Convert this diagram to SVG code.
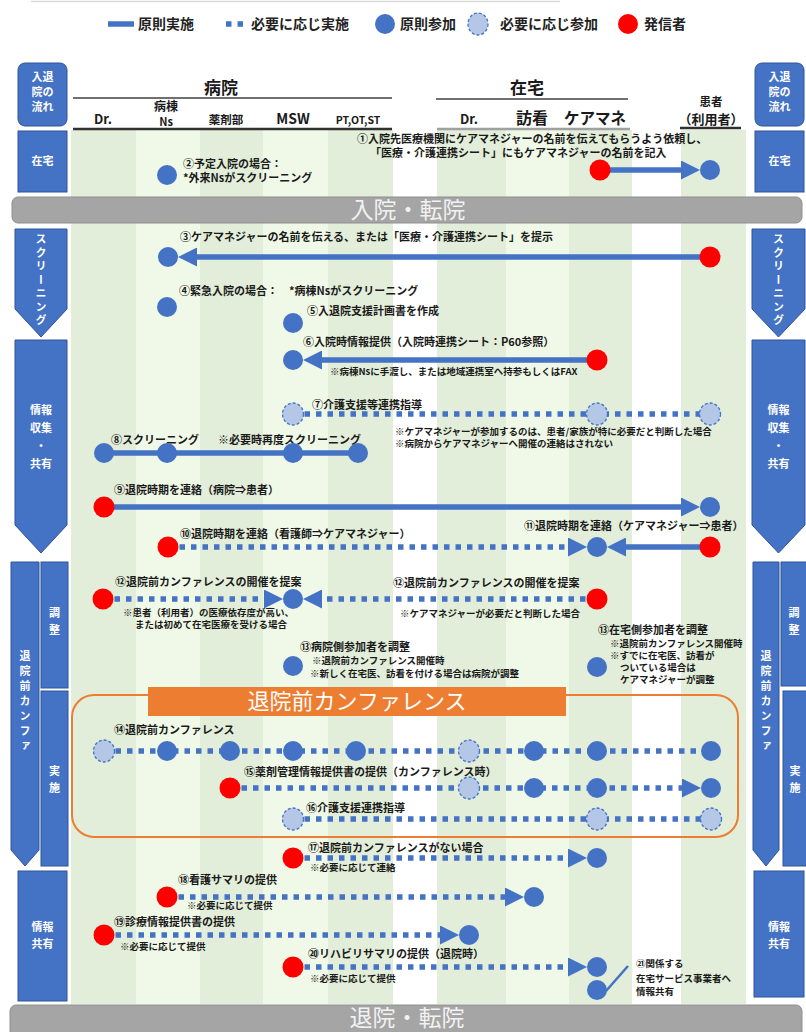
<svg xmlns="http://www.w3.org/2000/svg" width="806" height="1032" viewBox="0 0 806 1032">
<defs>
<style>
text{font-family:"Noto Sans CJK JP","Noto Sans CJK SC",sans-serif}
.lb{font-size:11px;font-weight:700;fill:#1a1a1a}
.nt{font-size:9.5px;font-weight:700;fill:#1a1a1a}
.hd{font-weight:700;fill:#1a1a1a;text-anchor:middle}
.lg{font-size:14px;font-weight:700;fill:#222}
.sd{fill:#4472c4;stroke:#2f5597;stroke-width:1}
.st{font-size:11px;font-weight:700;fill:#fff;text-anchor:middle}
.vt{font-size:11px;font-weight:700;fill:#fff;text-anchor:middle;writing-mode:vertical-rl}
.D{fill:#e2eed9}
.L{fill:#f0f9e8}
.b{fill:#4472c4}
.r{fill:#ff0000}
.o{fill:#b4c7e7;stroke:#4472c4;stroke-width:1.3;stroke-dasharray:3 2}
.s{stroke:#4472c4;stroke-width:5.5;fill:none}
.d{stroke:#4472c4;stroke-width:5.5;stroke-dasharray:5.5 6;fill:none}
.a{marker-end:url(#ah)}
.bar{fill:#a5a5a5;stroke:#8f8f8f;stroke-width:1}
.bt{font-size:23px;fill:#f2f2f2;text-anchor:middle}
</style>
<marker id="ah" viewBox="0 0 19 19" refX="11" refY="9.5" markerWidth="19" markerHeight="19" markerUnits="userSpaceOnUse" orient="auto">
<path d="M0,0L19,9.5L0,19z" fill="#4472c4"/>
</marker>
</defs>

<rect width="806" height="1032" fill="#ffffff"/>
<line x1="31" y1="1.5" x2="560" y2="1.5" stroke="#d9d9d9" stroke-width="1.5"/>

<!-- legend -->
<g id="legend">
<line class="s" x1="108" y1="24" x2="134" y2="24"/>
<text class="lg" x="138" y="29">原則実施</text>
<line class="d" x1="226" y1="24" x2="246" y2="24"/>
<text class="lg" x="251" y="29">必要に応じ実施</text>
<circle class="b" cx="385" cy="24" r="10"/>
<text class="lg" x="400" y="29">原則参加</text>
<ellipse class="o" cx="478" cy="24" rx="10" ry="11"/>
<text class="lg" x="500" y="29">必要に応じ参加</text>
<circle class="r" cx="628" cy="24" r="10"/>
<text class="lg" x="644" y="29">発信者</text>
</g>

<!-- column stripes -->
<g id="stripes">
<rect class="D" x="71" y="130" width="65" height="874"/>
<rect class="L" x="136" y="130" width="64" height="874"/>
<rect class="D" x="200" y="130" width="63" height="874"/>
<rect class="L" x="263" y="130" width="65" height="874"/>
<rect class="D" x="328" y="130" width="65" height="874"/>
<rect class="D" x="437" y="130" width="69" height="874"/>
<rect class="L" x="506" y="130" width="63" height="874"/>
<rect class="D" x="569" y="130" width="63" height="874"/>
<rect class="D" x="681" y="130" width="65" height="874"/>
</g>

<!-- header -->
<g id="header">
<text class="hd" x="221" y="94" font-size="17">病院</text>
<text class="hd" x="527" y="94" font-size="17">在宅</text>
<line x1="73" y1="98" x2="392" y2="98" stroke="#404040" stroke-width="1.5"/>
<line x1="436" y1="99" x2="628" y2="99" stroke="#404040" stroke-width="1.5"/>
<text class="hd" x="103" y="124" font-size="13">Dr.</text>
<text class="hd" x="166" y="111" font-size="12">病棟</text>
<text class="hd" x="166" y="126" font-size="11">Ns</text>
<text class="hd" x="226" y="124" font-size="11.5">薬剤部</text>
<text class="hd" x="293" y="124" font-size="14">MSW</text>
<text class="hd" x="358" y="124" font-size="10.5">PT,OT,ST</text>
<text class="hd" x="469" y="124" font-size="13">Dr.</text>
<text class="hd" x="532" y="124" font-size="16">訪看</text>
<text class="hd" x="595" y="124" font-size="15.5">ケアマネ</text>
<text class="hd" x="711" y="106" font-size="11.5">患者</text>
<text class="hd" x="711" y="124" font-size="13">（利用者）</text>
<line x1="73" y1="129" x2="392" y2="129" stroke="#303030" stroke-width="2.5"/>
<line x1="437" y1="129" x2="630" y2="129" stroke="#a0a0a0" stroke-width="2.5"/>
<line x1="680" y1="128" x2="741" y2="128" stroke="#303030" stroke-width="2.5"/>
</g>

<!-- left side flow -->
<g id="left-flow-title"><rect class="sd" x="18" y="63" width="49" height="63" rx="7"/>
<text class="st" font-size="10" x="42.5" y="81">入退</text><text class="st" font-size="10" x="42.5" y="96">院の</text><text class="st" font-size="10" x="42.5" y="111">流れ</text></g>
<g id="left-zaitaku"><rect class="sd" x="18" y="131" width="49" height="61"/><text class="st" x="42.5" y="165">在宅</text></g>
<g id="left-screening"><path class="sd" d="M15,229H67V309L41,337L15,309Z"/><text class="vt" x="41" y="281" letter-spacing="2.5">スクリーニング</text></g>
<g id="left-info"><path class="sd" d="M15,340H67V525L41,553L15,525Z"/>
<text class="st" x="41" y="414">情報</text><text class="st" x="41" y="432">収集</text><text class="st" x="41" y="450">・</text><text class="st" x="41" y="468">共有</text></g>
<g id="left-conf"><path class="sd" d="M11,562H39V850L25,866L11,850Z"/><text class="vt" x="25" y="703" font-size="11.5" letter-spacing="4">退院前カンファ</text></g>
<g id="left-adjust"><rect class="sd" x="41" y="562" width="27" height="126"/><text class="vt" x="54.5" y="624" letter-spacing="6">調整</text></g>
<g id="left-impl"><rect class="sd" x="41" y="691" width="27" height="175"/><text class="vt" x="54.5" y="782" letter-spacing="6">実施</text></g>
<g id="left-share"><rect class="sd" x="18" y="871" width="49" height="130"/><text class="st" x="42.5" y="931">情報</text><text class="st" x="42.5" y="948">共有</text></g>

<!-- right side flow -->
<g id="right-flow-title"><rect class="sd" x="755" y="63" width="49" height="63" rx="7"/>
<text class="st" font-size="10" x="779.5" y="81">入退</text><text class="st" font-size="10" x="779.5" y="96">院の</text><text class="st" font-size="10" x="779.5" y="111">流れ</text></g>
<g id="right-zaitaku"><rect class="sd" x="755" y="131" width="49" height="61"/><text class="st" x="779.5" y="165">在宅</text></g>
<g id="right-screening"><path class="sd" d="M752,229H805V309L778.5,337L752,309Z"/><text class="vt" x="778.5" y="281" letter-spacing="2.5">スクリーニング</text></g>
<g id="right-info"><path class="sd" d="M752,340H805V525L778.5,553L752,525Z"/>
<text class="st" x="778.5" y="414">情報</text><text class="st" x="778.5" y="432">収集</text><text class="st" x="778.5" y="450">・</text><text class="st" x="778.5" y="468">共有</text></g>
<g id="right-conf"><path class="sd" d="M753,562H779V850L766,866L753,850Z"/><text class="vt" x="766" y="703" font-size="11.5" letter-spacing="4">退院前カンファ</text></g>
<g id="right-adjust"><rect class="sd" x="781" y="562" width="30" height="124"/><text class="vt" x="794" y="624" letter-spacing="6">調整</text></g>
<g id="right-impl"><rect class="sd" x="783" y="691" width="28" height="175"/><text class="vt" x="795" y="782" letter-spacing="6">実施</text></g>
<g id="right-share"><rect class="sd" x="754" y="871" width="50" height="126"/><text class="st" x="779" y="931">情報</text><text class="st" x="779" y="948">共有</text></g>

<!-- phase bars -->
<g id="bar-admission"><rect class="bar" x="12" y="197" width="790" height="26" rx="6"/><text class="bt" x="408" y="218">入院・転院</text></g>
<g id="bar-discharge"><rect class="bar" x="10" y="1005" width="792" height="34" rx="6"/><text class="bt" x="407" y="1026">退院・転院</text></g>

<!-- conference frame -->
<g id="conference-frame">
<rect x="72" y="695" width="666" height="142" rx="22" fill="none" stroke="#ed7d31" stroke-width="2"/>
<rect x="148" y="687" width="418" height="29" fill="#ed7d31"/>
<text x="357" y="709" font-size="22" fill="#ffffff" text-anchor="middle">退院前カンファレンス</text>
</g>

<!-- connectors -->
<g id="connectors">
<line class="s a" x1="600" y1="170" x2="692" y2="170"/>
<line class="s a" x1="710" y1="257" x2="186" y2="257"/>
<line class="s a" x1="597" y1="360" x2="311" y2="360"/>
<line class="d" x1="293" y1="414" x2="710" y2="414"/>
<line class="s" x1="104" y1="453" x2="358" y2="453"/>
<line class="s a" x1="104" y1="507" x2="692" y2="507"/>
<line class="d a" x1="168" y1="547" x2="579" y2="547"/>
<line class="s a" x1="710" y1="547" x2="615" y2="547"/>
<line class="d a" x1="103" y1="599" x2="275" y2="599"/>
<line class="d a" x1="597" y1="599" x2="311" y2="599"/>
<line class="d" x1="104" y1="751" x2="711" y2="751"/>
<line class="d a" x1="230" y1="788" x2="693" y2="788"/>
<line class="d" x1="293" y1="819" x2="711" y2="819"/>
<line class="d a" x1="293" y1="858" x2="579" y2="858"/>
<line class="d a" x1="167" y1="897" x2="516" y2="897"/>
<line class="d a" x1="104" y1="935" x2="451" y2="935"/>
<line class="d a" x1="293" y1="967" x2="579" y2="967"/>
<line x1="606" y1="991" x2="628" y2="966" stroke="#4472c4" stroke-width="2.5"/>
</g>

<!-- steps -->
<g id="step1">
<text class="lb" x="357" y="143">①入院先医療機関にケアマネジャーの名前を伝えてもらうよう依頼し、</text>
<text class="lb" x="370" y="157">「医療・介護連携シート」にもケアマネジャーの名前を記入</text>
<circle class="r" cx="600" cy="170" r="10.5"/><circle class="b" cx="710" cy="170" r="10"/>
</g>
<g id="step2">
<text class="lb" x="183" y="168">②予定入院の場合：</text>
<text class="lb" x="183" y="182">*外来Nsがスクリーニング</text>
<circle class="b" cx="167" cy="175" r="10"/>
</g>
<g id="step3">
<text class="lb" x="180" y="241">③ケアマネジャーの名前を伝える、または「医療・介護連携シート」を提示</text>
<circle class="b" cx="168" cy="257" r="10"/><circle class="r" cx="710" cy="257" r="10.5"/>
</g>
<g id="step4">
<text class="lb" x="179" y="295">④緊急入院の場合：　*病棟Nsがスクリーニング</text>
<circle class="b" cx="167" cy="307" r="10"/>
</g>
<g id="step5">
<text class="lb" x="307" y="315">⑤入退院支援計画書を作成</text>
<circle class="b" cx="293" cy="323" r="10"/>
</g>
<g id="step6">
<text class="lb" x="303" y="346">⑥入院時情報提供（入院時連携シート：P60参照）</text>
<text class="nt" x="330" y="375">※病棟Nsに手渡し、または地域連携室へ持参もしくはFAX</text>
<circle class="b" cx="293" cy="360" r="10"/><circle class="r" cx="597" cy="360" r="10.5"/>
</g>
<g id="step7">
<text class="lb" x="312" y="409">⑦介護支援等連携指導</text>
<text class="nt" x="395" y="435">※ケアマネジャーが参加するのは、患者/家族が特に必要だと判断した場合</text>
<text class="nt" x="395" y="447">※病院からケアマネジャーへ開催の連絡はされない</text>
<ellipse class="o" cx="293" cy="414" rx="10.5" ry="11"/><ellipse class="o" cx="597" cy="414" rx="10.5" ry="11"/><ellipse class="o" cx="710" cy="414" rx="10.5" ry="11"/>
</g>
<g id="step8">
<text class="lb" x="111" y="444">⑧スクリーニング</text>
<text class="lb" x="218" y="444">※必要時再度スクリーニング</text>
<circle class="b" cx="104" cy="453" r="10"/><circle class="b" cx="167" cy="453" r="10"/><circle class="b" cx="293" cy="453" r="10"/><circle class="b" cx="358" cy="453" r="10"/>
</g>
<g id="step9">
<text class="lb" x="114" y="494">⑨退院時期を連絡（病院⇒患者）</text>
<circle class="r" cx="104" cy="507" r="10.5"/><circle class="b" cx="710" cy="507" r="10"/>
</g>
<g id="step10">
<text class="lb" x="180" y="538">⑩退院時期を連絡（看護師⇒ケアマネジャー）</text>
<circle class="r" cx="168" cy="547" r="10.5"/><circle class="b" cx="597" cy="547" r="10"/>
</g>
<g id="step11">
<text class="lb" x="524" y="530">⑪退院時期を連絡（ケアマネジャー⇒患者）</text>
<circle class="r" cx="710" cy="547" r="10.5"/>
</g>
<g id="step12-hospital">
<text class="lb" x="115" y="586">⑫退院前カンファレンスの開催を提案</text>
<text class="nt" x="123" y="616">※患者（利用者）の医療依存度が高い、</text>
<text class="nt" x="135" y="628">または初めて在宅医療を受ける場合</text>
<circle class="r" cx="103" cy="599" r="10.5"/><circle class="b" cx="293" cy="599" r="10"/>
</g>
<g id="step12-home">
<text class="lb" x="393" y="587">⑫退院前カンファレンスの開催を提案</text>
<text class="nt" x="400" y="617">※ケアマネジャーが必要だと判断した場合</text>
<circle class="r" cx="597" cy="599" r="10.5"/>
</g>
<g id="step13-hospital">
<text class="lb" x="300" y="651">⑬病院側参加者を調整</text>
<text class="nt" x="312" y="664">※退院前カンファレンス開催時</text>
<text class="nt" x="310" y="677">※新しく在宅医、訪看を付ける場合は病院が調整</text>
<circle class="b" cx="293" cy="666" r="10"/>
</g>
<g id="step13-home">
<text class="lb" x="598" y="634">⑬在宅側参加者を調整</text>
<text class="nt" x="610" y="647">※退院前カンファレンス開催時</text>
<text class="nt" x="610" y="659">※すでに在宅医、訪看が</text>
<text class="nt" x="620" y="671">ついている場合は</text>
<text class="nt" x="620" y="683">ケアマネジャーが調整</text>
<circle class="b" cx="597" cy="667" r="10"/>
</g>
<g id="step14">
<text class="lb" x="114" y="734">⑭退院前カンファレンス</text>
<ellipse class="o" cx="104" cy="751" rx="10.5" ry="11"/>
<circle class="b" cx="167" cy="751" r="10"/><circle class="b" cx="230" cy="751" r="10"/><circle class="b" cx="293" cy="751" r="10"/><circle class="b" cx="356" cy="751" r="10"/>
<ellipse class="o" cx="469" cy="751" rx="10.5" ry="11"/>
<circle class="b" cx="534" cy="751" r="10"/><circle class="b" cx="597" cy="751" r="10"/><circle class="b" cx="711" cy="751" r="10"/>
</g>
<g id="step15">
<text class="lb" x="244" y="776">⑮薬剤管理情報提供書の提供（カンファレンス時）</text>
<circle class="r" cx="230" cy="788" r="10.5"/>
<ellipse class="o" cx="469" cy="788" rx="10.5" ry="11"/>
<circle class="b" cx="534" cy="788" r="10"/><circle class="b" cx="597" cy="788" r="10"/><circle class="b" cx="711" cy="788" r="10"/>
</g>
<g id="step16">
<text class="lb" x="306" y="812">⑯介護支援連携指導</text>
<ellipse class="o" cx="293" cy="819" rx="10.5" ry="11"/><ellipse class="o" cx="597" cy="819" rx="10.5" ry="11"/><ellipse class="o" cx="711" cy="819" rx="10.5" ry="11"/>
</g>
<g id="step17">
<text class="lb" x="308" y="852">⑰退院前カンファレンスがない場合</text>
<text class="nt" x="310" y="871">※必要に応じて連絡</text>
<circle class="r" cx="293" cy="858" r="10.5"/><circle class="b" cx="597" cy="858" r="10"/>
</g>
<g id="step18">
<text class="lb" x="178" y="884">⑱看護サマリの提供</text>
<text class="nt" x="187" y="909">※必要に応じて提供</text>
<circle class="r" cx="167" cy="897" r="10.5"/><circle class="b" cx="534" cy="897" r="10"/>
</g>
<g id="step19">
<text class="lb" x="114" y="926">⑲診療情報提供書の提供</text>
<text class="nt" x="120" y="950">※必要に応じて提供</text>
<circle class="r" cx="104" cy="935" r="10.5"/><circle class="b" cx="469" cy="935" r="10"/>
</g>
<g id="step20">
<text class="lb" x="308" y="958">⑳リハビリサマリの提供（退院時）</text>
<text class="nt" x="310" y="982">※必要に応じて提供</text>
<circle class="r" cx="293" cy="967" r="10.5"/><circle class="b" cx="597" cy="967" r="10"/>
</g>
<g id="step21">
<text class="nt" x="636" y="967">㉑関係する</text>
<text class="nt" x="636" y="982">在宅サービス事業者へ</text>
<text class="nt" x="636" y="995">情報共有</text>
<circle class="b" cx="597" cy="990" r="10"/>
</g>
</svg>
